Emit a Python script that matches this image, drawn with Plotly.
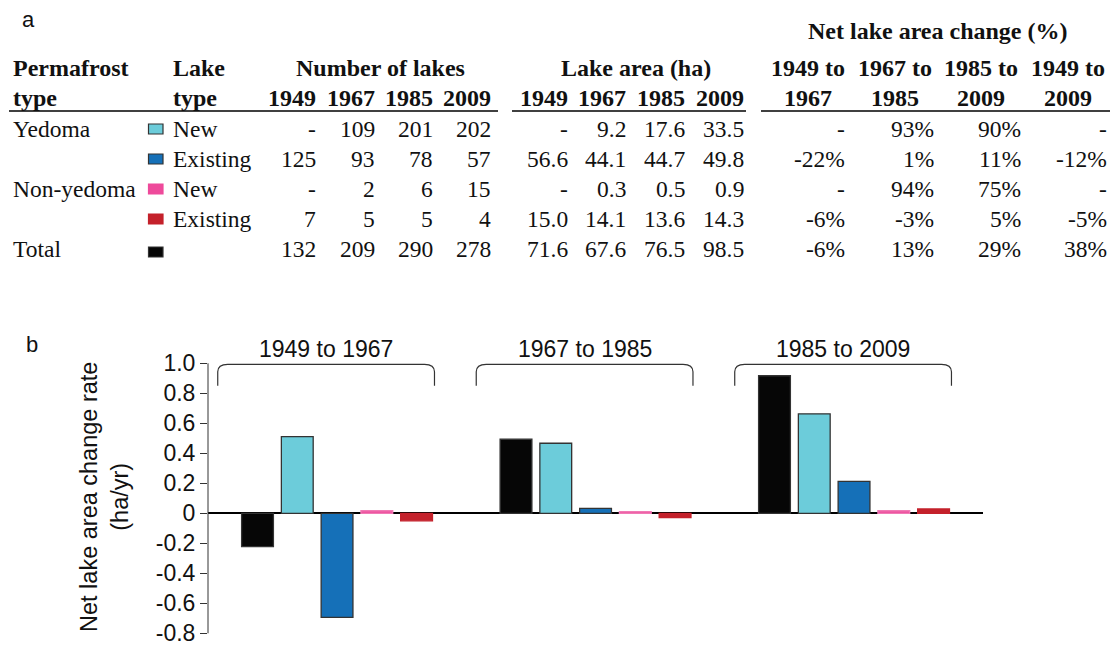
import plotly.graph_objects as go

W, H = 1114, 646
SERIF = "Liberation Serif"
SANS = "Liberation Sans"
INK = "#111111"

# ---------------- table data (panel a) ----------------
permafrost_types = ["Yedoma", "", "Non-yedoma", "", "Total"]
lake_types = ["New", "Existing", "New", "Existing", ""]
years = ["1949", "1967", "1985", "2009"]
lake_counts = [
    ["-", "109", "201", "202"],
    ["125", "93", "78", "57"],
    ["-", "2", "6", "15"],
    ["7", "5", "5", "4"],
    ["132", "209", "290", "278"],
]
lake_area_ha = [
    ["-", "9.2", "17.6", "33.5"],
    ["56.6", "44.1", "44.7", "49.8"],
    ["-", "0.3", "0.5", "0.9"],
    ["15.0", "14.1", "13.6", "14.3"],
    ["71.6", "67.6", "76.5", "98.5"],
]
pct_periods_top = ["1949 to", "1967 to", "1985 to", "1949 to"]
pct_periods_bottom = ["1967", "1985", "2009", "2009"]
pct_change = [
    ["-", "93%", "90%", "-"],
    ["-22%", "1%", "11%", "-12%"],
    ["-", "94%", "75%", "-"],
    ["-6%", "-3%", "5%", "-5%"],
    ["-6%", "13%", "29%", "38%"],
]

# ---------------- bar data (panel b), ha/yr ----------------
periods = ["1949 to 1967", "1967 to 1985", "1985 to 2009"]
series_names = ["Total", "Yedoma new", "Yedoma existing", "Non-yedoma new", "Non-yedoma existing"]
rate_total = [-0.222, 0.494, 0.917]
rate_yedoma_new = [0.511, 0.467, 0.663]
rate_yedoma_existing = [-0.694, 0.033, 0.213]
rate_nonyedoma_new = [0.017, 0.011, 0.017]
rate_nonyedoma_existing = [-0.050, -0.028, 0.029]
y_tickvals = [1.0, 0.8, 0.6, 0.4, 0.2, 0.0, -0.2, -0.4, -0.6, -0.8]
y_ticktext = ["1.0", "0.8", "0.6", "0.4", "0.2", "0", "-0.2", "-0.4", "-0.6", "-0.8"]

series_values = [rate_total, rate_yedoma_new, rate_yedoma_existing,
                 rate_nonyedoma_new, rate_nonyedoma_existing]
fills = ["#060606", "#6CCCDA", "#1570B8", "#EE4A9B", "#C4212B"]
edges = ["#333333", "#333333", "#333333", "#F07AB5", "#C4212B"]

GROUP_STEP = 6.5  # spacing between period groups, in bar slots

fig = go.Figure()
for i, (name, vals) in enumerate(zip(series_names, series_values)):
    fig.add_trace(go.Bar(
        x=[g * GROUP_STEP + i for g in range(len(periods))],
        y=vals,
        width=0.8,
        name=name,
        marker=dict(color=fills[i], line=dict(color=edges[i], width=1.3)),
        showlegend=False,
        hoverinfo="skip",
    ))

# helpers: pixel position -> paper coordinates
def px(x):
    return x / W

def py(y):
    return 1 - y / H

def text(x, y, s, size=23.5, bold=False, family=SERIF, xanchor="left", **kw):
    fig.add_annotation(
        x=px(x), y=py(y), xref="paper", yref="paper",
        text=f"<b>{s}</b>" if bold else s, showarrow=False,
        xanchor=xanchor, yanchor="middle",
        font=dict(family=family, size=size, color=INK), **kw)

# ---------------- panel a: table ----------------
text(20, 19, "a", size=22, family=SANS)

HDR1, HDR2 = 68, 98
row_y = [129, 159, 189, 219, 249]
count_right = [316, 375, 433, 491]
area_right = [568, 626, 685, 744]
pct_right = [845, 934, 1021, 1107]
pct_center = [808, 895, 981, 1068]

text(938, 31, "Net lake area change (%)", size=24, bold=True, xanchor="center")
text(11, HDR1, "Permafrost", size=24, bold=True)
text(11, HDR2, "type", size=24, bold=True)
text(171, HDR1, "Lake", size=24, bold=True)
text(171, HDR2, "type", size=24, bold=True)
text(sum(count_right) / 4 - 23, HDR1, "Number of lakes", size=24, bold=True, xanchor="center")
text(sum(area_right) / 4 - 20, HDR1, "Lake area (ha)", size=24, bold=True, xanchor="center")
for j, yr in enumerate(years):
    text(count_right[j] + 2, HDR2, yr, size=24, bold=True, xanchor="right")
    text(area_right[j] + 2, HDR2, yr, size=24, bold=True, xanchor="right")
for j in range(4):
    text(pct_center[j], HDR1, pct_periods_top[j], size=24, bold=True, xanchor="center")
    text(pct_center[j], HDR2, pct_periods_bottom[j], size=24, bold=True, xanchor="center")

# header rules
for x0, x1 in [(9, 498), (512, 746), (761, 1110)]:
    fig.add_shape(type="line", xref="paper", yref="paper",
                  x0=px(x0), x1=px(x1), y0=py(111), y1=py(111),
                  line=dict(color="#000000", width=1.4))

# legend swatches: total is drawn black, others follow the bar order
swatch_order = [1, 2, 3, 4, 0]
for r in range(5):
    yc = row_y[r]
    k = swatch_order[r]
    text(11, yc, permafrost_types[r])
    text(171, yc, lake_types[r])
    fig.add_shape(type="rect", xref="paper", yref="paper",
                  x0=px(148.5), x1=px(163), y0=py(yc + 5 if r < 4 else yc + 8),
                  y1=py(yc - 5 if r < 4 else yc - 2),
                  fillcolor=fills[k], line=dict(color=edges[k] if k < 3 else fills[k], width=1.2))
    for j in range(4):
        text(count_right[j] + 2, yc, lake_counts[r][j], xanchor="right")
        text(area_right[j] + 2, yc, lake_area_ha[r][j], xanchor="right")
        text(pct_right[j] + 2, yc, pct_change[r][j], xanchor="right")

# ---------------- panel b: bar chart ----------------
text(24, 345, "b", size=22, family=SANS)

# 150 px per unit; range padded slightly below -0.8
Y_MIN, Y_MAX = -0.82, 1.2
fig.update_layout(
    width=W, height=H, autosize=False,
    margin=dict(l=0, r=0, t=0, b=0, pad=0),
    paper_bgcolor="white", plot_bgcolor="white",
    barmode="overlay",
    xaxis=dict(domain=[px(208), px(983)], range=[-1.245, 18.243],
               visible=False, fixedrange=True, automargin=False),
    yaxis=dict(domain=[py(636.3), py(333.3)], range=[Y_MIN, Y_MAX],
               showgrid=False, showline=False, automargin=False,
               zeroline=True, zerolinecolor="#000000", zerolinewidth=2,
               ticks="outside", ticklen=7, tickwidth=1, tickcolor="#333333",
               tickvals=y_tickvals, ticktext=y_ticktext,
               ticklabeloverflow="allow",
               tickfont=dict(family=SANS, size=23, color=INK),
               fixedrange=True),
)

# y axis spine from -0.8 to 1.0
fig.add_shape(type="line", xref="x domain", yref="y", x0=0, x1=0,
              y0=y_tickvals[-1], y1=y_tickvals[0],
              line=dict(color="#333333", width=1))

# axis title
fig.add_annotation(x=px(104), y=py(497), xref="paper", yref="paper",
                   text="Net lake area change rate<br>(ha/yr)", textangle=-90,
                   showarrow=False, xanchor="center", yanchor="middle",
                   font=dict(family=SANS, size=23.5, color=INK))

# period brackets with labels
for g, label in enumerate(periods):
    x0 = g * GROUP_STEP - 1.0
    x1 = g * GROUP_STEP + 4.45
    ytop, ylow = 0.993, 0.85
    path = (f"M {x0},{ylow} L {x0},{ytop - 0.05} Q {x0},{ytop} {x0 + 0.25},{ytop} "
            f"L {x1 - 0.25},{ytop} Q {x1},{ytop} {x1},{ytop - 0.05} L {x1},{ylow}")
    fig.add_shape(type="path", xref="x", yref="y", path=path,
                  line=dict(color="#333333", width=1.2))
    fig.add_annotation(x=(x0 + x1) / 2, y=1.095, xref="x", yref="y", text=label,
                       showarrow=False, xanchor="center", yanchor="middle",
                       font=dict(family=SANS, size=23, color=INK))

fig.write_html("out.html")
